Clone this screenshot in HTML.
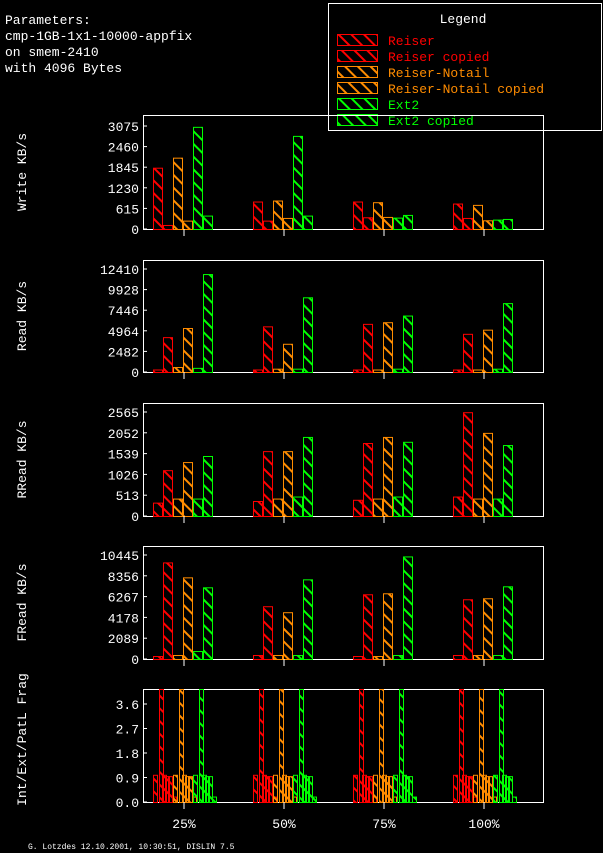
<!DOCTYPE html>
<html><head><style>
body{margin:0;background:#000;}
svg{display:block;font-family:"Liberation Mono",monospace;}
</style></head><body>
<svg id="s" width="603" height="853" xmlns="http://www.w3.org/2000/svg">
<defs>
<pattern id="hr" width="9" height="9" patternUnits="userSpaceOnUse" patternTransform="rotate(45)"><rect width="9" height="2" fill="#ff0000"/></pattern>
<pattern id="ho" width="9" height="9" patternUnits="userSpaceOnUse" patternTransform="rotate(45)"><rect width="9" height="2" fill="#ff8c00"/></pattern>
<pattern id="hg" width="9" height="9" patternUnits="userSpaceOnUse" patternTransform="rotate(45)"><rect width="9" height="2" fill="#00ff00"/></pattern>
</defs>
<g fill="#fff" font-size="13">
<text x="5" y="24">Parameters:</text>
<text x="5" y="40">cmp-1GB-1x1-10000-appfix</text>
<text x="5" y="56">on smem-2410</text>
<text x="5" y="72">with 4096 Bytes</text>
<text x="28" y="849" font-size="8">G. Lotzdes 12.10.2001, 10:30:51, DISLIN 7.5</text>
</g>
<g id="main"></g>
</svg>
<script>
(function(){
var NS="http://www.w3.org/2000/svg";
var g=document.getElementById('main');
function el(t,a,txt){var e=document.createElementNS(NS,t);for(var k in a)e.setAttribute(k,a[k]);if(txt!==undefined)e.textContent=txt;g.appendChild(e);return e;}
var cols=['#ff0000','#ff0000','#ff8c00','#ff8c00','#00ff00','#00ff00'];
var pats=['hr','hr','ho','ho','hg','hg'];
el('rect',{x:328.5,y:3.5,width:273,height:127,fill:'#000',stroke:'#fff'});
el('text',{x:463,y:23,fill:'#fff','font-size':13,'text-anchor':'middle'},'Legend');
var names=['Reiser','Reiser copied','Reiser-Notail','Reiser-Notail copied','Ext2','Ext2 copied'];
names.forEach(function(n,i){var y=34+i*16;
el('rect',{x:337.5,y:y+0.5,width:40,height:11,fill:'url(#'+pats[i]+')',stroke:cols[i]});
el('text',{x:388,y:y+11,fill:cols[i],'font-size':13},n);});
var panels=[
{t:115,b:229,max:3075,ymax:126,ticks:[0,615,1230,1845,2460,3075],lab:'Write KB/s',
 d:[[1830,120,2130,250,3050,400],[820,250,850,330,2780,400],[820,350,800,360,340,420],[760,330,720,260,280,300]]},
{t:260,b:372,max:12410,ymax:269,ticks:[0,2482,4964,7446,9928,12410],lab:'Read KB/s',
 d:[[300,4200,600,5300,500,11800],[300,5500,400,3400,400,9000],[300,5800,300,6000,400,6800],[300,4600,300,5100,400,8300]]},
{t:403,b:516,max:2565,ymax:412,ticks:[0,513,1026,1539,2052,2565],lab:'RRead KB/s',
 d:[[330,1130,430,1330,430,1480],[370,1600,430,1600,480,1950],[400,1800,430,1950,480,1830],[480,2560,430,2050,430,1750]]},
{t:546,b:659,max:10445,ymax:555,ticks:[0,2089,4178,6267,8356,10445],lab:'FRead KB/s',
 d:[[300,9700,400,8200,800,7200],[400,5300,400,4700,400,8000],[300,6500,300,6600,400,10300],[400,6000,400,6100,400,7300]]}
];
var tx=[184,284,384,484];
panels.forEach(function(p){
 el('rect',{x:143.5,y:p.t+.5,width:400,height:p.b-p.t,fill:'none',stroke:'#fff'});
 var sc=(p.b-p.ymax)/p.max;
 p.ticks.forEach(function(t){var y=p.b-t*sc;
  el('line',{x1:143,x2:147,y1:y,y2:y,stroke:'#fff'});
  el('text',{x:139,y:y+5,fill:'#fff','font-size':13,'text-anchor':'end'},String(t));});
 el('text',{x:0,y:0,fill:'#fff','font-size':13,'text-anchor':'middle',transform:'translate(26,'+((p.t+p.b)/2)+') rotate(-90)'},p.lab);
 p.d.forEach(function(vals,gi){vals.forEach(function(v,i){var x=tx[gi]-31+i*10;var h=v*sc;
  el('rect',{x:x+.5,y:p.b-h+.5,width:9,height:h,fill:'url(#'+pats[i]+')',stroke:cols[i]});});});
 tx.forEach(function(x){el('line',{x1:x,x2:x,y1:p.b,y2:p.b+7,stroke:'#fff'});});
});
var T=689,B=802,sc=24.5/0.9;
el('rect',{x:143.5,y:T+.5,width:400,height:B-T,fill:'none',stroke:'#fff'});
[0,0.9,1.8,2.7,3.6].forEach(function(t){var y=B-t*sc;
 el('line',{x1:143,x2:147,y1:y,y2:y,stroke:'#fff'});
 el('text',{x:139,y:y+5,fill:'#fff','font-size':13,'text-anchor':'end'},t.toFixed(1));});
el('text',{x:0,y:0,fill:'#fff','font-size':13,'text-anchor':'middle',transform:'translate(26,'+((T+B)/2-6)+') rotate(-90)'},'Int/Ext/PatL Frag');
tx.forEach(function(cx){
 for(var s=0;s<3;s++){var c=cols[s*2];var base=cx-31+s*20;
  var bars=[[0,4,1.0],[6,4,5],[9,4,1.0],[12,4,0.95],[15,4,0.95],[19,4,0.2]];
  bars.forEach(function(b){var h=Math.min(b[2]*sc,B-T);
   el('rect',{x:base+b[0]+.5,y:B-h+.5,width:b[1],height:h,fill:'url(#'+pats[s*2]+')',stroke:c});});}
 el('line',{x1:cx,x2:cx,y1:B,y2:B+7,stroke:'#fff'});
});
['25%','50%','75%','100%'].forEach(function(t,i){el('text',{x:tx[i],y:828,fill:'#fff','font-size':13,'text-anchor':'middle'},t);});
})();
</script>
</body></html>
